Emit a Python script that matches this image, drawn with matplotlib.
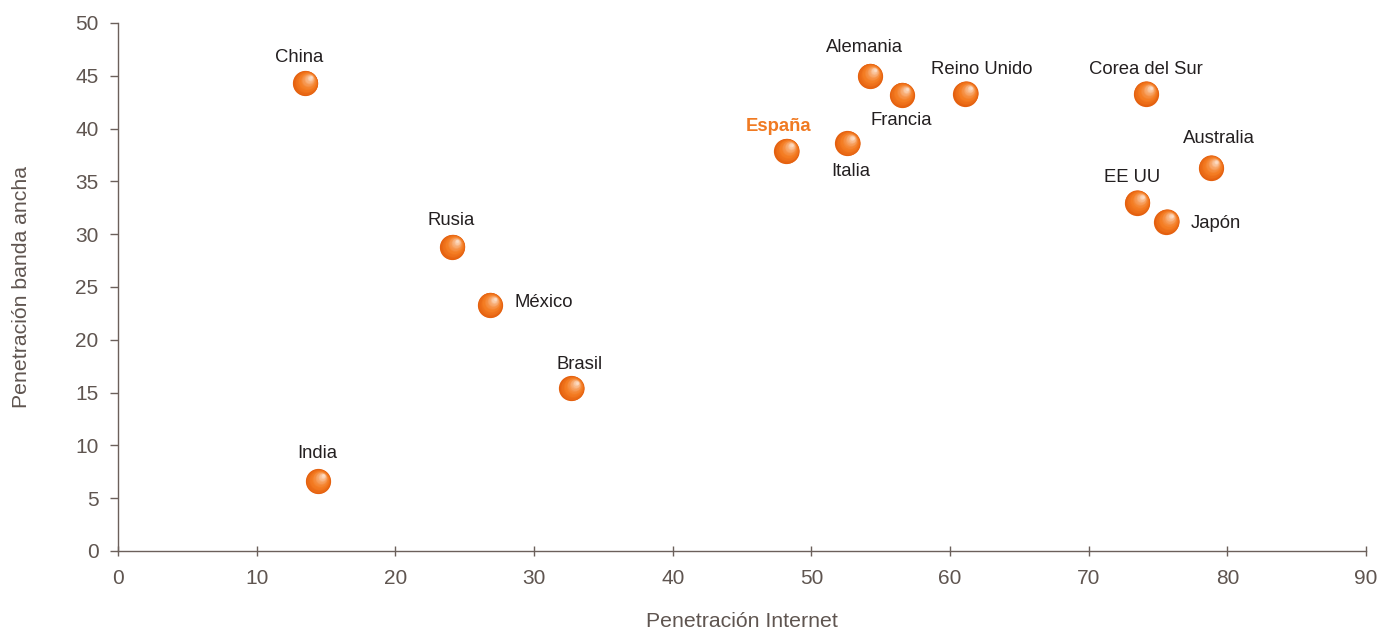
import matplotlib
matplotlib.use("Agg")
import matplotlib.pyplot as plt
import matplotlib.colors as mcolors
import numpy as np

# penetración de internet vs banda ancha por país
paises = ["China", "India", "Rusia", "México", "Brasil", "España", "Italia",
          "Alemania", "Francia", "Reino Unido", "Corea del Sur", "EE UU",
          "Japón", "Australia"]
internet = [13.5, 14.4, 24.1, 26.8, 32.7, 48.2, 52.6, 54.2, 56.5, 61.1,
            74.1, 73.5, 75.6, 78.8]
banda_ancha = [44.3, 6.6, 28.8, 23.3, 15.4, 37.9, 38.6, 45.0, 43.2, 43.3,
               43.3, 33.0, 31.2, 36.3]

# desplazamiento de cada etiqueta en píxeles (dx, dy, alineación)
etiquetas = {
    "China": (-6, 26, "center"),
    "India": (0, 28, "center"),
    "Rusia": (-1, 26, "center"),
    "México": (25, 2, "left"),
    "Brasil": (8, 24, "center"),
    "España": (-8, 24, "center"),
    "Italia": (3, -28, "center"),
    "Alemania": (-5, 28, "center"),
    "Francia": (0, -26, "center"),
    "Reino Unido": (16, 24, "center"),
    "Corea del Sur": (0, 24, "center"),
    "EE UU": (-5, 25, "center"),
    "Japón": (24, -2, "left"),
    "Australia": (8, 29, "center"),
}

plt.rcParams["font.family"] = ["Liberation Sans", "DejaVu Sans"]
eje = "#6b605b"
texto = "#5f5550"
naranja = "#f07a22"

fig = plt.figure(figsize=(13.87, 6.30), dpi=100)
ax = fig.add_axes([0.0851, 0.1254, 0.8998, 0.8381])

# esferas: capas concéntricas que se desplazan hacia el brillo (arriba a la derecha)
x = np.array(internet)
y = np.array(banda_ancha)
oscuro = np.array(mcolors.to_rgb("#e4600f"))
medio = np.array(mcolors.to_rgb("#f47c22"))
brillo = np.array(mcolors.to_rgb("#fcdcc4"))
n = 24
for i in range(n):
    t = i / (n - 1)
    r = 1.0 - 0.9 * t
    if t < 0.35:
        c = oscuro + (medio - oscuro) * (t / 0.35)
    else:
        c = medio + (brillo - medio) * ((t - 0.35) / 0.65) ** 1.4
    ax.scatter(x + 0.38 * t, y + 0.55 * t, s=330 * r ** 2, color=c,
               linewidths=0, zorder=3)

for p, xi, yi in zip(paises, internet, banda_ancha):
    dx, dy, ha = etiquetas[p]
    if p == "España":
        ax.annotate(p, (xi, yi), xytext=(dx, dy), textcoords="offset pixels",
                    ha=ha, va="center", fontsize=13.3, color=naranja,
                    fontweight="bold")
    else:
        ax.annotate(p, (xi, yi), xytext=(dx, dy), textcoords="offset pixels",
                    ha=ha, va="center", fontsize=13.3, color="#231f20")

ax.set_xlim(0, 90)
ax.set_ylim(0, 50)
ax.set_xticks(range(0, 91, 10))
ax.set_yticks(range(0, 51, 5))

for lado in ["top", "right"]:
    ax.spines[lado].set_visible(False)
for lado in ["left", "bottom"]:
    ax.spines[lado].set_color(eje)
    ax.spines[lado].set_linewidth(1.0)

ax.tick_params(axis="both", direction="inout", length=7, width=1.0,
               color=eje, labelcolor=texto, labelsize=15)
ax.tick_params(axis="x", pad=9.5)
ax.tick_params(axis="y", direction="out", length=6, pad=8)

ax.set_xlabel("Penetración Internet", fontsize=15.3, color=texto, labelpad=17)
ax.set_ylabel("Penetración banda ancha", fontsize=15.3, color=texto, labelpad=32)

fig.savefig("out.png", dpi=100)
